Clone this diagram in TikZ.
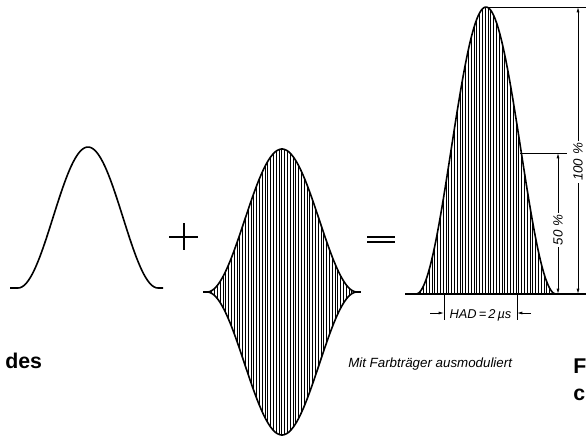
\documentclass[tikz,border=0pt]{standalone}
\usepackage{fontspec}
\setmainfont{Liberation Sans}
\usetikzlibrary{arrows.meta}

\tikzset{
  pulse/.style={line width=1.2pt,line join=round},
  hatch/.style={line width=0.6pt},
  dim/.style={line width=0.55pt},
  caption/.style={font=\fontsize{16}{20}\selectfont\bfseries,inner sep=0pt,anchor=base west},
  lbl/.style={font=\fontsize{10}{12}\selectfont\itshape,inner sep=1.5pt},
}

\begin{document}
\begin{tikzpicture}[x=0.75pt,y=-0.75pt,>={Latex[length=4pt,width=2.2pt]}]
  \useasboundingbox (0,0) rectangle (586,436);
  \def\hw{70}    % half base width of a sin^2 pulse
  \def\mw{75}    % half base width, modulated pulse
  \def\mc{282}   % centre of modulated pulse
  \def\mb{292}   % its zero line
  \def\rc{486}   % centre of right pulse
  \def\rb{294}   % its base line

  % luminance pulse (left)
  \draw[pulse] (10,288) -- (18,288)
    plot[domain=18:158,samples=80] (\x,{288-141*pow(cos(90*(\x-88)/\hw),2)})
    -- (163,288);

  % plus sign
  \draw[line width=0.9pt] (169,237) -- (198,237);
  \draw[line width=0.9pt] (184,223) -- (184,250);

  % modulated carrier: hatching, then envelope
  \foreach \x in {209,211.8,...,355}{
    \pgfmathsetmacro\e{143*pow(cos(90*(\x-\mc)/\mw),2)}
    \draw[hatch] (\x,\mb-\e) -- (\x,\mb+\e);
  }
  \draw[pulse] plot[domain=207:357,samples=100] (\x,{\mb-143*pow(cos(90*(\x-\mc)/\mw),2)});
  \draw[pulse] plot[domain=207:357,samples=100] (\x,{\mb+143*pow(cos(90*(\x-\mc)/\mw),2)});
  \draw[line width=0.9pt] (203,\mb) -- (211,\mb);
  \draw[line width=0.9pt] (353,\mb) -- (361,\mb);

  % equals sign
  \draw[line width=0.9pt] (367,237) -- (395,237);
  \draw[line width=0.9pt] (367,242) -- (395,242);

  % resulting pulse (right)
  \foreach \x in {418,420.8,...,554}{
    \pgfmathsetmacro\e{287*pow(cos(90*(\x-\rc)/\hw),2)}
    \draw[hatch] (\x,\rb) -- (\x,\rb-\e);
  }
  \draw[pulse] plot[domain=416:556,samples=100] (\x,{\rb-287*pow(cos(90*(\x-\rc)/\hw),2)});
  \draw[line width=1pt] (405,\rb) -- (586,\rb);

  % 100 % dimension
  \coordinate (peak) at (\rc,7);
  \coordinate (topR) at (586,7);
  \coordinate (t100) at (578,7);
  \coordinate (b100) at (578,\rb);
  \draw[dim] (peak) -- (topR);
  \node[lbl,rotate=90] (lab100) at (578,162) {100 \%};
  \draw[dim,->] (lab100) -- (t100);
  \draw[dim,->] (lab100) -- (b100);

  % 50 % dimension
  \coordinate (halfC) at (520,153);
  \coordinate (halfE) at (567,153);
  \coordinate (t50) at (558,153);
  \coordinate (b50) at (558,\rb);
  \draw[dim] (halfC) -- (halfE);
  \node[lbl,rotate=90] (lab50) at (558,230) {50 \%};
  \draw[dim,->] (lab50) -- (t50);
  \draw[dim,->] (lab50) -- (b50);

  % HAD
  \coordinate (tickL) at (444,\rb);
  \coordinate (tickR) at (517,\rb);
  \coordinate (endL) at (444,320);
  \coordinate (endR) at (517,320);
  \draw[dim] (tickL) -- (endL);
  \draw[dim] (tickR) -- (endR);
  \coordinate (hadL) at (444,313);
  \coordinate (hadR) at (517,313);
  \coordinate (inL) at (430,313);
  \coordinate (inR) at (531,313);
  \draw[dim,->] (inL) -- (hadL);
  \draw[dim,->] (inR) -- (hadR);
  \node[lbl,font=\fontsize{9.6}{11}\selectfont\itshape,anchor=base] (had) at (480.5,318) {HAD\,=\,2\,µs};

  % captions
  \node[caption] (des) at (5,368) {des};
  \node[lbl,anchor=base west,inner sep=0pt] (modnote) at (348,367) {Mit Farbträger ausmoduliert};
  \node[caption] (capF) at (573,373) {F};
  \node[caption] (capC) at (573,400) {c};
\end{tikzpicture}
\end{document}
